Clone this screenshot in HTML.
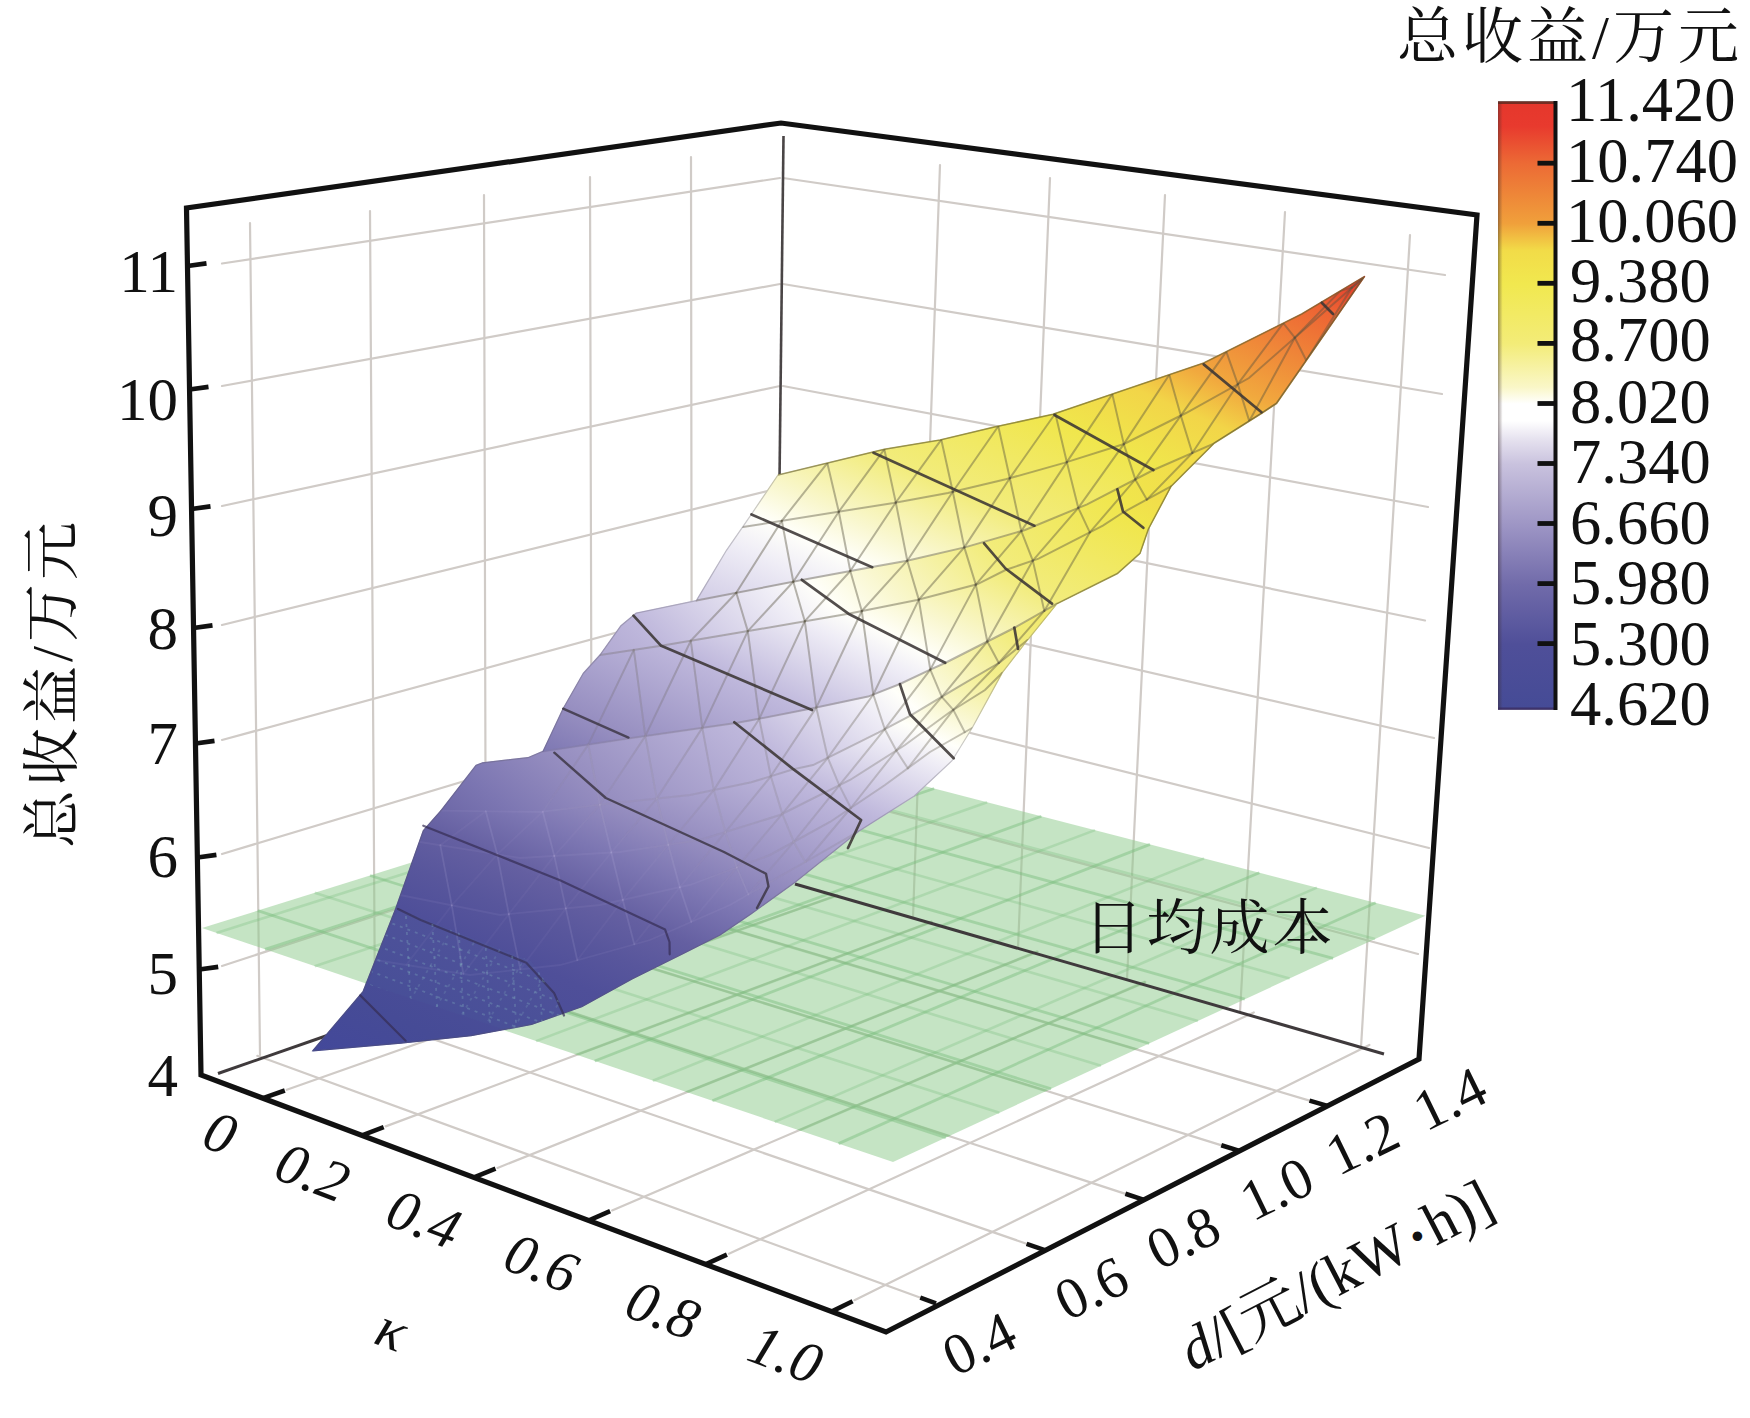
<!DOCTYPE html>
<html><head><meta charset="utf-8"><title>3D surface</title>
<style>html,body{margin:0;padding:0;background:#fff}svg{display:block}</style></head>
<body><svg width="1750" height="1418" viewBox="0 0 1750 1418">
<rect width="1750" height="1418" fill="#fff"/>
<g stroke="#d0cbc7" stroke-width="2.2" fill="none" stroke-linecap="round">
<line x1="286.8" y1="1089.8" x2="837.5" y2="895.2" />
<line x1="385.7" y1="1126.4" x2="931.9" y2="921.8" />
<line x1="497.5" y1="1167.9" x2="1037.7" y2="951.6" />
<line x1="612.1" y1="1210.4" x2="1145.3" y2="981.9" />
<line x1="728.9" y1="1253.7" x2="1253.8" y2="1012.5" />
<line x1="854.5" y1="1300.2" x2="1369.4" y2="1045.0" />
<line x1="257.3" y1="1055.8" x2="927.4" y2="1300.3" />
<line x1="370.2" y1="1017.4" x2="1033.7" y2="1246.2" />
<line x1="476.1" y1="981.3" x2="1132.3" y2="1196.1" />
<line x1="580.0" y1="945.9" x2="1228.1" y2="1147.4" />
<line x1="676.5" y1="913.1" x2="1316.2" y2="1102.6" />
<line x1="250.0" y1="223.0" x2="260.0" y2="1055.0" />
<line x1="370.0" y1="211.0" x2="375.0" y2="1016.0" />
<line x1="484.0" y1="195.0" x2="486.0" y2="978.0" />
<line x1="590.0" y1="177.0" x2="592.0" y2="942.0" />
<line x1="691.0" y1="157.0" x2="692.0" y2="908.0" />
<line x1="222.0" y1="966.0" x2="780.0" y2="783.0" />
<line x1="222.0" y1="854.0" x2="780.0" y2="686.0" />
<line x1="222.0" y1="740.0" x2="780.0" y2="588.0" />
<line x1="222.0" y1="625.0" x2="780.0" y2="488.0" />
<line x1="222.0" y1="506.0" x2="780.0" y2="386.0" />
<line x1="222.0" y1="386.0" x2="780.0" y2="284.0" />
<line x1="222.0" y1="263.5" x2="780.0" y2="178.0" />
<line x1="940.0" y1="165.0" x2="913.0" y2="917.6" />
<line x1="1050.0" y1="178.0" x2="1018.0" y2="948.0" />
<line x1="1165.0" y1="195.0" x2="1127.0" y2="979.6" />
<line x1="1285.0" y1="212.0" x2="1240.0" y2="1012.3" />
<line x1="1410.0" y1="235.0" x2="1361.0" y2="1047.3" />
<line x1="783.0" y1="783.0" x2="1418.0" y2="954.0" />
<line x1="783.0" y1="686.0" x2="1429.0" y2="848.0" />
<line x1="783.0" y1="588.0" x2="1434.0" y2="738.0" />
<line x1="783.0" y1="488.0" x2="1425.0" y2="620.5" />
<line x1="783.0" y1="386.0" x2="1428.0" y2="507.0" />
<line x1="783.0" y1="284.0" x2="1442.0" y2="394.0" />
<line x1="783.0" y1="178.0" x2="1445.0" y2="275.0" />
</g>
<g stroke="#4a4546" stroke-width="2.6" fill="none">
<line x1="783.5" y1="136.0" x2="779.5" y2="480.0" />
</g>
<defs><clipPath id="cpl"><polygon points="202.0,928.0 893.0,1162.0 1425.4,915.7 778.0,748.0"/></clipPath></defs>
<polygon points="202.0,928.0 893.0,1162.0 1425.4,915.7 778.0,748.0" fill="#8cc98a" fill-opacity="0.5"/>
<g clip-path="url(#cpl)" stroke="#7cc07e" stroke-opacity="0.38" stroke-width="2.8" fill="none">
<line x1="286.8" y1="1089.8" x2="837.5" y2="895.2" />
<line x1="385.7" y1="1126.4" x2="931.9" y2="921.8" />
<line x1="497.5" y1="1167.9" x2="1037.7" y2="951.6" />
<line x1="612.1" y1="1210.4" x2="1145.3" y2="981.9" />
<line x1="728.9" y1="1253.7" x2="1253.8" y2="1012.5" />
<line x1="854.5" y1="1300.2" x2="1369.4" y2="1045.0" />
<line x1="257.3" y1="1055.8" x2="927.4" y2="1300.3" />
<line x1="370.2" y1="1017.4" x2="1033.7" y2="1246.2" />
<line x1="476.1" y1="981.3" x2="1132.3" y2="1196.1" />
<line x1="580.0" y1="945.9" x2="1228.1" y2="1147.4" />
<line x1="676.5" y1="913.1" x2="1316.2" y2="1102.6" />
</g>
<g stroke="#78bd7c" stroke-opacity="0.45" stroke-width="2.8" fill="none">
<line x1="265.0" y1="949.3" x2="838.4" y2="763.7" />
<line x1="365.5" y1="983.4" x2="934.2" y2="788.5" />
<line x1="478.9" y1="1021.8" x2="1041.4" y2="816.2" />
<line x1="594.7" y1="1061.0" x2="1150.0" y2="844.4" />
<line x1="712.4" y1="1100.8" x2="1259.4" y2="872.7" />
<line x1="838.6" y1="1143.6" x2="1375.7" y2="902.8" />
<line x1="257.8" y1="910.6" x2="945.8" y2="1137.6" />
<line x1="370.0" y1="875.5" x2="1051.1" y2="1088.9" />
<line x1="475.5" y1="842.5" x2="1149.2" y2="1043.5" />
<line x1="579.3" y1="810.1" x2="1244.8" y2="999.2" />
<line x1="676.0" y1="779.9" x2="1333.1" y2="958.4" />
</g>
<g stroke="#78bd7c" stroke-opacity="0.3" stroke-width="2.6" fill="none">
<line x1="314.7" y1="966.2" x2="885.8" y2="775.9" />
<line x1="421.4" y1="1002.3" x2="987.2" y2="802.2" />
<line x1="536.0" y1="1041.1" x2="1095.1" y2="830.1" />
<line x1="652.8" y1="1080.7" x2="1204.1" y2="858.4" />
<line x1="774.7" y1="1121.9" x2="1316.9" y2="887.6" />
<line x1="216.5" y1="932.9" x2="792.0" y2="751.6" />
<line x1="314.8" y1="892.8" x2="999.4" y2="1112.8" />
<line x1="423.5" y1="858.8" x2="1101.0" y2="1065.8" />
<line x1="528.2" y1="826.1" x2="1197.9" y2="1021.0" />
<line x1="628.4" y1="794.8" x2="1289.7" y2="978.5" />
<line x1="722.3" y1="765.4" x2="1375.1" y2="939.0" />
</g>
<g stroke="#3f3a3c" stroke-width="3" fill="none">
<line x1="218.0" y1="1073.5" x2="330.0" y2="1034.5" />
<line x1="795.0" y1="884.0" x2="1384.0" y2="1054.0" />
</g>
<defs><linearGradient id="g1" gradientUnits="userSpaceOnUse" x1="-134.2" y1="301.5" x2="123.2" y2="-276.8"><stop offset="0.0000" stop-color="#b8b1d7"/><stop offset="0.0395" stop-color="#bfb8dc"/><stop offset="0.2066" stop-color="#efedf6"/><stop offset="0.2621" stop-color="#fffffa"/><stop offset="0.3183" stop-color="#f9f7cf"/><stop offset="0.4281" stop-color="#f2ec7c"/><stop offset="0.5924" stop-color="#f0e64c"/><stop offset="0.6896" stop-color="#f2d548"/><stop offset="0.7536" stop-color="#f1a93e"/><stop offset="0.9283" stop-color="#ed6233"/><stop offset="0.9992" stop-color="#e5352b"/><stop offset="1.0000" stop-color="#e5352b"/></linearGradient>
<linearGradient id="g2a" gradientUnits="userSpaceOnUse" x1="-28.3" y1="28.3" x2="396.0" y2="-396.0"><stop offset="0.0000" stop-color="#b1a9d2"/><stop offset="0.0862" stop-color="#bfb8dc"/><stop offset="0.2728" stop-color="#efedf6"/><stop offset="0.3350" stop-color="#fffffa"/><stop offset="0.4190" stop-color="#f9f7cf"/><stop offset="0.5833" stop-color="#f2ec7c"/><stop offset="0.7968" stop-color="#f0e64c"/><stop offset="1.0000" stop-color="#f2d648"/></linearGradient>
<linearGradient id="g2b" gradientUnits="userSpaceOnUse" x1="-199.8" y1="392.0" x2="36.3" y2="-71.3"><stop offset="0.0000" stop-color="#7670ad"/><stop offset="0.0269" stop-color="#7c76b2"/><stop offset="0.1269" stop-color="#968ec0"/><stop offset="0.3269" stop-color="#bfb8dc"/><stop offset="0.4834" stop-color="#efedf6"/><stop offset="0.5356" stop-color="#fffffa"/><stop offset="0.6049" stop-color="#f9f7cf"/><stop offset="0.7404" stop-color="#f2ec7c"/><stop offset="0.9442" stop-color="#f0e64c"/><stop offset="1.0000" stop-color="#f1de4a"/></linearGradient>
<linearGradient id="g3a" gradientUnits="userSpaceOnUse" x1="-231.4" y1="275.8" x2="128.6" y2="-153.2"><stop offset="0.0000" stop-color="#6661a2"/><stop offset="0.1187" stop-color="#7c76b2"/><stop offset="0.2482" stop-color="#968ec0"/><stop offset="0.4999" stop-color="#bfb8dc"/><stop offset="0.6688" stop-color="#efedf6"/><stop offset="0.7250" stop-color="#fffffa"/><stop offset="0.7963" stop-color="#f9f7cf"/><stop offset="0.9357" stop-color="#f2ec7c"/><stop offset="1.0000" stop-color="#f1ea6d"/></linearGradient>
<linearGradient id="g3b" gradientUnits="userSpaceOnUse" x1="-341.7" y1="767.4" x2="-85.4" y2="191.8"><stop offset="0.0000" stop-color="#43489a"/><stop offset="0.0111" stop-color="#43489a"/><stop offset="0.1111" stop-color="#464b96"/><stop offset="0.2777" stop-color="#4f4f99"/><stop offset="0.3429" stop-color="#58569c"/><stop offset="0.4080" stop-color="#645fa1"/><stop offset="0.4865" stop-color="#7c76b2"/><stop offset="0.5651" stop-color="#968ec0"/><stop offset="0.7159" stop-color="#bfb8dc"/><stop offset="0.8302" stop-color="#efedf6"/><stop offset="0.8682" stop-color="#fffffa"/><stop offset="0.9182" stop-color="#f9f7cf"/><stop offset="1.0000" stop-color="#f3ee89"/></linearGradient>
<clipPath id="cs"><polygon points="778.0,475.0 884.3,449.3 940.0,440.0 994.3,427.1 1052.9,414.3 1203.7,363.0 1301.7,314.0 1364.6,276.4 1276.6,403.4 1261.5,413.4 1213.7,443.6 1171.0,486.4 1148.4,529.0 1140.0,553.4 1117.4,573.5 1057.0,603.7 1027.5,640.0 1002.3,672.7 972.1,728.0 952.0,760.7 914.3,795.9 859.0,831.1 796.1,881.4 750.9,914.1 720.0,935.0 682.3,954.0 632.0,979.0 581.7,1006.8 531.4,1024.4 471.0,1035.7 400.7,1043.2 312.7,1050.8 363.0,991.7 395.7,908.7 423.3,830.7 441.0,810.6 476.0,765.4 482.6,762.8 527.9,757.7 543.0,751.4 563.1,708.7 583.2,673.5 600.0,655.0 621.0,625.7 636.0,613.2 696.4,600.6 726.5,550.3 751.7,513.8"/></clipPath>
<linearGradient id="mg1" gradientUnits="userSpaceOnUse" x1="-211.5" y1="475.0" x2="-93.5" y2="210.1"><stop offset="0" stop-color="#000"/><stop offset="1" stop-color="#fff"/></linearGradient>
<linearGradient id="mg2" gradientUnits="userSpaceOnUse" x1="-211.5" y1="475.0" x2="-93.5" y2="210.1"><stop offset="0" stop-color="#fff"/><stop offset="1" stop-color="#000"/></linearGradient>
<mask id="mk_hi" maskUnits="userSpaceOnUse" x="0" y="0" width="1750" height="1418"><rect width="1750" height="1418" fill="url(#mg1)"/></mask>
<mask id="mk_lo" maskUnits="userSpaceOnUse" x="0" y="0" width="1750" height="1418"><rect width="1750" height="1418" fill="url(#mg2)"/></mask>
<clipPath id="ct"><polygon points="398.0,909.0 531.0,961.0 557.0,997.0 564.0,1014.0 531.4,1024.4 507.0,1030.5 368.0,984.2 381.0,945.0"/></clipPath></defs>
<polygon points="778.0,475.0 884.3,449.3 940.0,440.0 994.3,427.1 1052.9,414.3 1203.7,363.0 1301.7,314.0 1364.6,276.4 1276.6,403.4 1261.5,413.4 1213.7,443.6 1171.0,486.4 1148.4,529.0 1140.0,553.4 1117.4,573.5 1057.0,603.7 1027.5,640.0 1002.3,672.7 972.1,728.0 952.0,760.7 914.3,795.9 859.0,831.1 796.1,881.4 750.9,914.1 720.0,935.0 682.3,954.0 632.0,979.0 581.7,1006.8 531.4,1024.4 471.0,1035.7 400.7,1043.2 312.7,1050.8 363.0,991.7 395.7,908.7 423.3,830.7 441.0,810.6 476.0,765.4 482.6,762.8 527.9,757.7 543.0,751.4 563.1,708.7 583.2,673.5 600.0,655.0 621.0,625.7 636.0,613.2 696.4,600.6 726.5,550.3 751.7,513.8" fill="#8f89bd"/>
<polygon points="312.7,1050.8 363.0,991.7 395.7,908.7 423.3,830.7 441.0,810.6 540.0,812.0 606.0,804.0 690.0,795.0 751.4,782.3 792.6,769.5 813.1,765.1 878.3,732.6 910.9,715.4 953.7,689.7 1000.0,662.3 1027.5,640.0 1002.3,672.7 972.1,728.0 952.0,760.7 914.3,795.9 859.0,831.1 796.1,881.4 750.9,914.1 720.0,935.0 682.3,954.0 632.0,979.0 581.7,1006.8 531.4,1024.4 471.0,1035.7 400.7,1043.2" fill="url(#g3b)" stroke="url(#g3b)" stroke-width="1.2" stroke-linejoin="round"/>
<polygon points="441.0,810.6 476.0,765.4 482.6,762.8 527.9,757.7 543.0,751.4 628.5,738.5 736.0,723.0 749.7,720.6 811.4,708.6 868.0,696.6 900.0,684.0 931.4,669.1 945.0,663.0 1014.0,628.0 1057.0,603.7 1027.5,640.0 1000.0,662.3 953.7,689.7 910.9,715.4 878.3,732.6 813.1,765.1 792.6,769.5 751.4,782.3 690.0,795.0 606.0,804.0 540.0,812.0" fill="url(#g3a)" stroke="url(#g3a)" stroke-width="1.2" stroke-linejoin="round"/>
<polygon points="543.0,751.4 563.1,708.7 583.2,673.5 600.0,655.0 661.2,645.8 760.0,629.0 848.4,613.7 917.1,600.0 977.1,584.3 1005.5,570.0 1038.6,558.6 1102.9,525.7 1123.0,512.5 1171.0,486.4 1148.4,529.0 1140.0,553.4 1117.4,573.5 1057.0,603.7 1014.0,628.0 945.0,663.0 931.4,669.1 900.0,684.0 868.0,696.6 811.4,708.6 749.7,720.6 736.0,723.0 628.5,738.5" fill="url(#g2b)" stroke="url(#g2b)" stroke-width="1.2" stroke-linejoin="round"/>
<polygon points="600.0,655.0 621.0,625.7 636.0,613.2 696.4,600.6 802.0,580.0 872.0,567.0 907.1,560.7 965.7,547.1 1025.0,530.0 1087.1,504.3 1153.4,470.0 1213.7,443.6 1171.0,486.4 1123.0,512.5 1102.9,525.7 1038.6,558.6 1005.5,570.0 977.1,584.3 917.1,600.0 848.4,613.7 760.0,629.0 661.2,645.8 600.0,655.0" fill="url(#g2a)" stroke="url(#g2a)" stroke-width="1.2" stroke-linejoin="round"/>
<polygon points="696.4,600.6 726.5,550.3 751.7,513.8 778.0,475.0 884.3,449.3 940.0,440.0 994.3,427.1 1052.9,414.3 1203.7,363.0 1301.7,314.0 1364.6,276.4 1276.6,403.4 1261.5,413.4 1213.7,443.6 1153.4,470.0 1087.1,504.3 1025.0,530.0 965.7,547.1 907.1,560.7 872.0,567.0 802.0,580.0 696.4,600.6" fill="url(#g1)" stroke="url(#g1)" stroke-width="1.2" stroke-linejoin="round"/>
<!--SHADE-->
<g clip-path="url(#cs)" fill="none" stroke-linecap="round">
<g stroke="#55503f" stroke-opacity="0.42" stroke-width="2" mask="url(#mk_hi)">
<polyline points="743.0,527.0 893.6,502.9 947.9,492.9 1005.7,479.3 1064.3,462.9 1124.0,444.0 1186.0,413.0 1249.0,378.0 1364.6,276.4"/>
<polyline points="696.4,600.6 802.0,580.0 872.0,567.0 907.1,560.7 965.7,547.1 1025.0,530.0 1087.1,504.3 1153.4,470.0 1213.7,443.6 1261.5,413.4 1276.6,403.4 1364.6,276.4"/>
<polyline points="600.0,655.0 661.2,645.8 760.0,629.0 848.4,613.7 917.1,600.0 977.1,584.3 1005.5,570.0 1038.6,558.6 1102.9,525.7 1123.0,512.5 1171.0,486.4"/>
<polyline points="543.0,751.4 628.5,738.5 736.0,723.0 749.7,720.6 811.4,708.6 868.0,696.6 900.0,684.0 931.4,669.1 945.0,663.0 1014.0,628.0 1057.0,603.7"/>
<polyline points="441.0,810.6 540.0,812.0 606.0,804.0 690.0,795.0 751.4,782.3 792.6,769.5 813.1,765.1 878.3,732.6 910.9,715.4 953.7,689.7 1000.0,662.3 1027.5,640.0"/>
<polyline points="420.0,842.0 520.0,858.0 620.0,852.0 700.0,840.0 780.0,815.0 850.0,780.0 905.0,745.0 950.0,712.0 985.0,690.0 1002.3,672.7"/>
<polyline points="400.0,895.0 500.0,915.0 600.0,905.0 690.0,885.0 770.0,855.0 830.0,822.0 885.0,785.0 930.0,752.0 972.1,728.0"/>
<polyline points="375.0,960.0 470.0,975.0 560.0,965.0 650.0,940.0 730.0,905.0 800.0,865.0 859.0,831.1"/>
<line x1="827.3" y1="463.1" x2="781.8" y2="520.8"/>
<line x1="827.3" y1="463.1" x2="838.8" y2="511.7"/>
<line x1="884.3" y1="449.3" x2="838.8" y2="511.7"/>
<line x1="884.3" y1="449.3" x2="895.8" y2="502.5"/>
<line x1="941.3" y1="439.7" x2="895.8" y2="502.5"/>
<line x1="941.3" y1="439.7" x2="952.8" y2="491.7"/>
<line x1="998.3" y1="426.2" x2="952.8" y2="491.7"/>
<line x1="998.3" y1="426.2" x2="1009.8" y2="478.2"/>
<line x1="1055.3" y1="413.5" x2="1009.8" y2="478.2"/>
<line x1="1055.3" y1="413.5" x2="1066.8" y2="462.1"/>
<line x1="1112.3" y1="394.1" x2="1066.8" y2="462.1"/>
<line x1="1112.3" y1="394.1" x2="1123.8" y2="444.1"/>
<line x1="1169.3" y1="374.7" x2="1123.8" y2="444.1"/>
<line x1="1169.3" y1="374.7" x2="1180.8" y2="415.6"/>
<line x1="1226.3" y1="351.7" x2="1180.8" y2="415.6"/>
<line x1="1226.3" y1="351.7" x2="1237.8" y2="384.2"/>
<line x1="1283.3" y1="323.2" x2="1237.8" y2="384.2"/>
<line x1="1283.3" y1="323.2" x2="1294.8" y2="337.7"/>
<line x1="1340.3" y1="290.9" x2="1294.8" y2="337.7"/>
<line x1="1340.3" y1="290.9" x2="1351.8" y2="287.6"/>
<line x1="781.8" y1="520.8" x2="736.3" y2="592.8"/>
<line x1="781.8" y1="520.8" x2="793.3" y2="581.7"/>
<line x1="838.8" y1="511.7" x2="793.3" y2="581.7"/>
<line x1="838.8" y1="511.7" x2="850.3" y2="571.0"/>
<line x1="895.8" y1="502.5" x2="850.3" y2="571.0"/>
<line x1="895.8" y1="502.5" x2="907.3" y2="560.7"/>
<line x1="952.8" y1="491.7" x2="907.3" y2="560.7"/>
<line x1="952.8" y1="491.7" x2="964.3" y2="547.4"/>
<line x1="1009.8" y1="478.2" x2="964.3" y2="547.4"/>
<line x1="1009.8" y1="478.2" x2="1021.3" y2="531.1"/>
<line x1="1066.8" y1="462.1" x2="1021.3" y2="531.1"/>
<line x1="1066.8" y1="462.1" x2="1078.3" y2="507.9"/>
<line x1="1123.8" y1="444.1" x2="1078.3" y2="507.9"/>
<line x1="1123.8" y1="444.1" x2="1135.3" y2="479.4"/>
<line x1="1180.8" y1="415.6" x2="1135.3" y2="479.4"/>
<line x1="1180.8" y1="415.6" x2="1192.3" y2="453.0"/>
<line x1="1237.8" y1="384.2" x2="1192.3" y2="453.0"/>
<line x1="1237.8" y1="384.2" x2="1249.3" y2="421.1"/>
<line x1="1294.8" y1="337.7" x2="1249.3" y2="421.1"/>
<line x1="1294.8" y1="337.7" x2="1306.3" y2="360.5"/>
<line x1="1351.8" y1="287.6" x2="1306.3" y2="360.5"/>
<line x1="1351.8" y1="287.6" x2="1363.3" y2="278.3"/>
<line x1="736.3" y1="592.8" x2="690.8" y2="640.8"/>
<line x1="736.3" y1="592.8" x2="747.8" y2="631.1"/>
<line x1="793.3" y1="581.7" x2="747.8" y2="631.1"/>
<line x1="793.3" y1="581.7" x2="804.8" y2="621.2"/>
<line x1="850.3" y1="571.0" x2="804.8" y2="621.2"/>
<line x1="850.3" y1="571.0" x2="861.8" y2="611.0"/>
<line x1="907.3" y1="560.7" x2="861.8" y2="611.0"/>
<line x1="907.3" y1="560.7" x2="918.8" y2="599.6"/>
<line x1="964.3" y1="547.4" x2="918.8" y2="599.6"/>
<line x1="964.3" y1="547.4" x2="975.8" y2="584.6"/>
<line x1="1021.3" y1="531.1" x2="975.8" y2="584.6"/>
<line x1="1021.3" y1="531.1" x2="1032.8" y2="560.6"/>
<line x1="1078.3" y1="507.9" x2="1032.8" y2="560.6"/>
<line x1="1078.3" y1="507.9" x2="1089.8" y2="532.4"/>
<line x1="1135.3" y1="479.4" x2="1089.8" y2="532.4"/>
<line x1="1135.3" y1="479.4" x2="1146.8" y2="499.6"/>
<line x1="1192.3" y1="453.0" x2="1146.8" y2="499.6"/>
<line x1="633.8" y1="649.9" x2="588.3" y2="744.6"/>
<line x1="633.8" y1="649.9" x2="645.3" y2="736.1"/>
<line x1="690.8" y1="640.8" x2="645.3" y2="736.1"/>
<line x1="690.8" y1="640.8" x2="702.3" y2="727.9"/>
<line x1="747.8" y1="631.1" x2="702.3" y2="727.9"/>
<line x1="747.8" y1="631.1" x2="759.3" y2="718.7"/>
<line x1="804.8" y1="621.2" x2="759.3" y2="718.7"/>
<line x1="804.8" y1="621.2" x2="816.3" y2="707.6"/>
<line x1="861.8" y1="611.0" x2="816.3" y2="707.6"/>
<line x1="861.8" y1="611.0" x2="873.3" y2="694.5"/>
<line x1="918.8" y1="599.6" x2="873.3" y2="694.5"/>
<line x1="918.8" y1="599.6" x2="930.3" y2="669.6"/>
<line x1="975.8" y1="584.6" x2="930.3" y2="669.6"/>
<line x1="975.8" y1="584.6" x2="987.3" y2="641.5"/>
<line x1="1032.8" y1="560.6" x2="987.3" y2="641.5"/>
<line x1="1032.8" y1="560.6" x2="1044.3" y2="610.9"/>
<line x1="1089.8" y1="532.4" x2="1044.3" y2="610.9"/>
<line x1="588.3" y1="744.6" x2="542.8" y2="811.7"/>
<line x1="588.3" y1="744.6" x2="599.8" y2="804.8"/>
<line x1="645.3" y1="736.1" x2="599.8" y2="804.8"/>
<line x1="645.3" y1="736.1" x2="656.8" y2="798.6"/>
<line x1="702.3" y1="727.9" x2="656.8" y2="798.6"/>
<line x1="702.3" y1="727.9" x2="713.8" y2="790.1"/>
<line x1="759.3" y1="718.7" x2="713.8" y2="790.1"/>
<line x1="759.3" y1="718.7" x2="770.8" y2="776.3"/>
<line x1="816.3" y1="707.6" x2="770.8" y2="776.3"/>
<line x1="816.3" y1="707.6" x2="827.8" y2="757.8"/>
<line x1="873.3" y1="694.5" x2="827.8" y2="757.8"/>
<line x1="873.3" y1="694.5" x2="884.8" y2="729.2"/>
<line x1="930.3" y1="669.6" x2="884.8" y2="729.2"/>
<line x1="930.3" y1="669.6" x2="941.8" y2="696.8"/>
<line x1="987.3" y1="641.5" x2="941.8" y2="696.8"/>
<line x1="987.3" y1="641.5" x2="998.8" y2="663.0"/>
<line x1="1044.3" y1="610.9" x2="998.8" y2="663.0"/>
<line x1="485.8" y1="811.2" x2="440.3" y2="845.2"/>
<line x1="485.8" y1="811.2" x2="497.3" y2="854.4"/>
<line x1="542.8" y1="811.7" x2="497.3" y2="854.4"/>
<line x1="542.8" y1="811.7" x2="554.3" y2="855.9"/>
<line x1="599.8" y1="804.8" x2="554.3" y2="855.9"/>
<line x1="599.8" y1="804.8" x2="611.3" y2="852.5"/>
<line x1="656.8" y1="798.6" x2="611.3" y2="852.5"/>
<line x1="656.8" y1="798.6" x2="668.3" y2="844.8"/>
<line x1="713.8" y1="790.1" x2="668.3" y2="844.8"/>
<line x1="713.8" y1="790.1" x2="725.3" y2="832.1"/>
<line x1="770.8" y1="776.3" x2="725.3" y2="832.1"/>
<line x1="770.8" y1="776.3" x2="782.3" y2="813.9"/>
<line x1="827.8" y1="757.8" x2="782.3" y2="813.9"/>
<line x1="827.8" y1="757.8" x2="839.3" y2="785.4"/>
<line x1="884.8" y1="729.2" x2="839.3" y2="785.4"/>
<line x1="884.8" y1="729.2" x2="896.3" y2="750.5"/>
<line x1="941.8" y1="696.8" x2="896.3" y2="750.5"/>
<line x1="941.8" y1="696.8" x2="953.3" y2="709.9"/>
<line x1="998.8" y1="663.0" x2="953.3" y2="709.9"/>
<line x1="440.3" y1="845.2" x2="451.8" y2="905.4"/>
<line x1="497.3" y1="854.4" x2="451.8" y2="905.4"/>
<line x1="497.3" y1="854.4" x2="508.8" y2="914.1"/>
<line x1="554.3" y1="855.9" x2="508.8" y2="914.1"/>
<line x1="554.3" y1="855.9" x2="565.8" y2="908.4"/>
<line x1="611.3" y1="852.5" x2="565.8" y2="908.4"/>
<line x1="611.3" y1="852.5" x2="622.8" y2="899.9"/>
<line x1="668.3" y1="844.8" x2="622.8" y2="899.9"/>
<line x1="668.3" y1="844.8" x2="679.8" y2="887.3"/>
<line x1="725.3" y1="832.1" x2="679.8" y2="887.3"/>
<line x1="725.3" y1="832.1" x2="736.8" y2="867.5"/>
<line x1="782.3" y1="813.9" x2="736.8" y2="867.5"/>
<line x1="782.3" y1="813.9" x2="793.8" y2="841.9"/>
<line x1="839.3" y1="785.4" x2="793.8" y2="841.9"/>
<line x1="839.3" y1="785.4" x2="850.8" y2="808.0"/>
<line x1="896.3" y1="750.5" x2="850.8" y2="808.0"/>
<line x1="896.3" y1="750.5" x2="907.8" y2="768.3"/>
<line x1="953.3" y1="709.9" x2="907.8" y2="768.3"/>
<line x1="953.3" y1="709.9" x2="964.8" y2="732.2"/>
<line x1="451.8" y1="905.4" x2="406.3" y2="964.9"/>
<line x1="451.8" y1="905.4" x2="463.3" y2="973.9"/>
<line x1="508.8" y1="914.1" x2="463.3" y2="973.9"/>
<line x1="508.8" y1="914.1" x2="520.3" y2="969.4"/>
<line x1="565.8" y1="908.4" x2="520.3" y2="969.4"/>
<line x1="565.8" y1="908.4" x2="577.3" y2="960.2"/>
<line x1="622.8" y1="899.9" x2="577.3" y2="960.2"/>
<line x1="622.8" y1="899.9" x2="634.3" y2="944.4"/>
<line x1="679.8" y1="887.3" x2="634.3" y2="944.4"/>
<line x1="679.8" y1="887.3" x2="691.3" y2="921.9"/>
<line x1="736.8" y1="867.5" x2="691.3" y2="921.9"/>
<line x1="736.8" y1="867.5" x2="748.3" y2="894.5"/>
<line x1="793.8" y1="841.9" x2="748.3" y2="894.5"/>
<line x1="793.8" y1="841.9" x2="805.3" y2="862.0"/>
<line x1="850.8" y1="808.0" x2="805.3" y2="862.0"/>
</g>
<g stroke="#cfc8ee" stroke-opacity="0.13" stroke-width="1.8" mask="url(#mk_lo)">
<polyline points="743.0,527.0 893.6,502.9 947.9,492.9 1005.7,479.3 1064.3,462.9 1124.0,444.0 1186.0,413.0 1249.0,378.0 1364.6,276.4" stroke-opacity="0.07"/>
<polyline points="696.4,600.6 802.0,580.0 872.0,567.0 907.1,560.7 965.7,547.1 1025.0,530.0 1087.1,504.3 1153.4,470.0 1213.7,443.6 1261.5,413.4 1276.6,403.4 1364.6,276.4" stroke-opacity="0.07"/>
<polyline points="600.0,655.0 661.2,645.8 760.0,629.0 848.4,613.7 917.1,600.0 977.1,584.3 1005.5,570.0 1038.6,558.6 1102.9,525.7 1123.0,512.5 1171.0,486.4" stroke-opacity="0.07"/>
<polyline points="543.0,751.4 628.5,738.5 736.0,723.0 749.7,720.6 811.4,708.6 868.0,696.6 900.0,684.0 931.4,669.1 945.0,663.0 1014.0,628.0 1057.0,603.7" stroke-opacity="0.07"/>
<polyline points="441.0,810.6 540.0,812.0 606.0,804.0 690.0,795.0 751.4,782.3 792.6,769.5 813.1,765.1 878.3,732.6 910.9,715.4 953.7,689.7 1000.0,662.3 1027.5,640.0" stroke-opacity="0.07"/>
<polyline points="420.0,842.0 520.0,858.0 620.0,852.0 700.0,840.0 780.0,815.0 850.0,780.0 905.0,745.0 950.0,712.0 985.0,690.0 1002.3,672.7" stroke-opacity="0.07"/>
<polyline points="400.0,895.0 500.0,915.0 600.0,905.0 690.0,885.0 770.0,855.0 830.0,822.0 885.0,785.0 930.0,752.0 972.1,728.0" stroke-opacity="0.07"/>
<polyline points="375.0,960.0 470.0,975.0 560.0,965.0 650.0,940.0 730.0,905.0 800.0,865.0 859.0,831.1" stroke-opacity="0.07"/>
<line x1="827.3" y1="463.1" x2="838.8" y2="511.7"/>
<line x1="884.3" y1="449.3" x2="895.8" y2="502.5"/>
<line x1="941.3" y1="439.7" x2="952.8" y2="491.7"/>
<line x1="998.3" y1="426.2" x2="1009.8" y2="478.2"/>
<line x1="1055.3" y1="413.5" x2="1066.8" y2="462.1"/>
<line x1="1112.3" y1="394.1" x2="1123.8" y2="444.1"/>
<line x1="1169.3" y1="374.7" x2="1180.8" y2="415.6"/>
<line x1="1226.3" y1="351.7" x2="1237.8" y2="384.2"/>
<line x1="1283.3" y1="323.2" x2="1294.8" y2="337.7"/>
<line x1="1340.3" y1="290.9" x2="1351.8" y2="287.6"/>
<line x1="781.8" y1="520.8" x2="793.3" y2="581.7"/>
<line x1="838.8" y1="511.7" x2="850.3" y2="571.0"/>
<line x1="895.8" y1="502.5" x2="907.3" y2="560.7"/>
<line x1="952.8" y1="491.7" x2="964.3" y2="547.4"/>
<line x1="1009.8" y1="478.2" x2="1021.3" y2="531.1"/>
<line x1="1066.8" y1="462.1" x2="1078.3" y2="507.9"/>
<line x1="1123.8" y1="444.1" x2="1135.3" y2="479.4"/>
<line x1="1180.8" y1="415.6" x2="1192.3" y2="453.0"/>
<line x1="1237.8" y1="384.2" x2="1249.3" y2="421.1"/>
<line x1="1294.8" y1="337.7" x2="1306.3" y2="360.5"/>
<line x1="1351.8" y1="287.6" x2="1363.3" y2="278.3"/>
<line x1="736.3" y1="592.8" x2="747.8" y2="631.1"/>
<line x1="793.3" y1="581.7" x2="804.8" y2="621.2"/>
<line x1="850.3" y1="571.0" x2="861.8" y2="611.0"/>
<line x1="907.3" y1="560.7" x2="918.8" y2="599.6"/>
<line x1="964.3" y1="547.4" x2="975.8" y2="584.6"/>
<line x1="1021.3" y1="531.1" x2="1032.8" y2="560.6"/>
<line x1="1078.3" y1="507.9" x2="1089.8" y2="532.4"/>
<line x1="1135.3" y1="479.4" x2="1146.8" y2="499.6"/>
<line x1="633.8" y1="649.9" x2="645.3" y2="736.1"/>
<line x1="690.8" y1="640.8" x2="702.3" y2="727.9"/>
<line x1="747.8" y1="631.1" x2="759.3" y2="718.7"/>
<line x1="804.8" y1="621.2" x2="816.3" y2="707.6"/>
<line x1="861.8" y1="611.0" x2="873.3" y2="694.5"/>
<line x1="918.8" y1="599.6" x2="930.3" y2="669.6"/>
<line x1="975.8" y1="584.6" x2="987.3" y2="641.5"/>
<line x1="1032.8" y1="560.6" x2="1044.3" y2="610.9"/>
<line x1="588.3" y1="744.6" x2="599.8" y2="804.8"/>
<line x1="645.3" y1="736.1" x2="656.8" y2="798.6"/>
<line x1="702.3" y1="727.9" x2="713.8" y2="790.1"/>
<line x1="759.3" y1="718.7" x2="770.8" y2="776.3"/>
<line x1="816.3" y1="707.6" x2="827.8" y2="757.8"/>
<line x1="873.3" y1="694.5" x2="884.8" y2="729.2"/>
<line x1="930.3" y1="669.6" x2="941.8" y2="696.8"/>
<line x1="987.3" y1="641.5" x2="998.8" y2="663.0"/>
<line x1="485.8" y1="811.2" x2="497.3" y2="854.4"/>
<line x1="542.8" y1="811.7" x2="554.3" y2="855.9"/>
<line x1="599.8" y1="804.8" x2="611.3" y2="852.5"/>
<line x1="656.8" y1="798.6" x2="668.3" y2="844.8"/>
<line x1="713.8" y1="790.1" x2="725.3" y2="832.1"/>
<line x1="770.8" y1="776.3" x2="782.3" y2="813.9"/>
<line x1="827.8" y1="757.8" x2="839.3" y2="785.4"/>
<line x1="884.8" y1="729.2" x2="896.3" y2="750.5"/>
<line x1="941.8" y1="696.8" x2="953.3" y2="709.9"/>
<line x1="440.3" y1="845.2" x2="451.8" y2="905.4"/>
<line x1="497.3" y1="854.4" x2="508.8" y2="914.1"/>
<line x1="554.3" y1="855.9" x2="565.8" y2="908.4"/>
<line x1="611.3" y1="852.5" x2="622.8" y2="899.9"/>
<line x1="668.3" y1="844.8" x2="679.8" y2="887.3"/>
<line x1="725.3" y1="832.1" x2="736.8" y2="867.5"/>
<line x1="782.3" y1="813.9" x2="793.8" y2="841.9"/>
<line x1="839.3" y1="785.4" x2="850.8" y2="808.0"/>
<line x1="896.3" y1="750.5" x2="907.8" y2="768.3"/>
<line x1="953.3" y1="709.9" x2="964.8" y2="732.2"/>
<line x1="451.8" y1="905.4" x2="463.3" y2="973.9"/>
<line x1="508.8" y1="914.1" x2="520.3" y2="969.4"/>
<line x1="565.8" y1="908.4" x2="577.3" y2="960.2"/>
<line x1="622.8" y1="899.9" x2="634.3" y2="944.4"/>
<line x1="679.8" y1="887.3" x2="691.3" y2="921.9"/>
<line x1="736.8" y1="867.5" x2="748.3" y2="894.5"/>
<line x1="793.8" y1="841.9" x2="805.3" y2="862.0"/>
<line x1="827.3" y1="463.1" x2="781.8" y2="520.8" stroke-opacity="0.05"/>
<line x1="884.3" y1="449.3" x2="838.8" y2="511.7" stroke-opacity="0.05"/>
<line x1="941.3" y1="439.7" x2="895.8" y2="502.5" stroke-opacity="0.05"/>
<line x1="998.3" y1="426.2" x2="952.8" y2="491.7" stroke-opacity="0.05"/>
<line x1="1055.3" y1="413.5" x2="1009.8" y2="478.2" stroke-opacity="0.05"/>
<line x1="1112.3" y1="394.1" x2="1066.8" y2="462.1" stroke-opacity="0.05"/>
<line x1="1169.3" y1="374.7" x2="1123.8" y2="444.1" stroke-opacity="0.05"/>
<line x1="1226.3" y1="351.7" x2="1180.8" y2="415.6" stroke-opacity="0.05"/>
<line x1="1283.3" y1="323.2" x2="1237.8" y2="384.2" stroke-opacity="0.05"/>
<line x1="1340.3" y1="290.9" x2="1294.8" y2="337.7" stroke-opacity="0.05"/>
<line x1="781.8" y1="520.8" x2="736.3" y2="592.8" stroke-opacity="0.05"/>
<line x1="838.8" y1="511.7" x2="793.3" y2="581.7" stroke-opacity="0.05"/>
<line x1="895.8" y1="502.5" x2="850.3" y2="571.0" stroke-opacity="0.05"/>
<line x1="952.8" y1="491.7" x2="907.3" y2="560.7" stroke-opacity="0.05"/>
<line x1="1009.8" y1="478.2" x2="964.3" y2="547.4" stroke-opacity="0.05"/>
<line x1="1066.8" y1="462.1" x2="1021.3" y2="531.1" stroke-opacity="0.05"/>
<line x1="1123.8" y1="444.1" x2="1078.3" y2="507.9" stroke-opacity="0.05"/>
<line x1="1180.8" y1="415.6" x2="1135.3" y2="479.4" stroke-opacity="0.05"/>
<line x1="1237.8" y1="384.2" x2="1192.3" y2="453.0" stroke-opacity="0.05"/>
<line x1="1294.8" y1="337.7" x2="1249.3" y2="421.1" stroke-opacity="0.05"/>
<line x1="1351.8" y1="287.6" x2="1306.3" y2="360.5" stroke-opacity="0.05"/>
<line x1="736.3" y1="592.8" x2="690.8" y2="640.8" stroke-opacity="0.05"/>
<line x1="793.3" y1="581.7" x2="747.8" y2="631.1" stroke-opacity="0.05"/>
<line x1="850.3" y1="571.0" x2="804.8" y2="621.2" stroke-opacity="0.05"/>
<line x1="907.3" y1="560.7" x2="861.8" y2="611.0" stroke-opacity="0.05"/>
<line x1="964.3" y1="547.4" x2="918.8" y2="599.6" stroke-opacity="0.05"/>
<line x1="1021.3" y1="531.1" x2="975.8" y2="584.6" stroke-opacity="0.05"/>
<line x1="1078.3" y1="507.9" x2="1032.8" y2="560.6" stroke-opacity="0.05"/>
<line x1="1135.3" y1="479.4" x2="1089.8" y2="532.4" stroke-opacity="0.05"/>
<line x1="1192.3" y1="453.0" x2="1146.8" y2="499.6" stroke-opacity="0.05"/>
<line x1="633.8" y1="649.9" x2="588.3" y2="744.6" stroke-opacity="0.05"/>
<line x1="690.8" y1="640.8" x2="645.3" y2="736.1" stroke-opacity="0.05"/>
<line x1="747.8" y1="631.1" x2="702.3" y2="727.9" stroke-opacity="0.05"/>
<line x1="804.8" y1="621.2" x2="759.3" y2="718.7" stroke-opacity="0.05"/>
<line x1="861.8" y1="611.0" x2="816.3" y2="707.6" stroke-opacity="0.05"/>
<line x1="918.8" y1="599.6" x2="873.3" y2="694.5" stroke-opacity="0.05"/>
<line x1="975.8" y1="584.6" x2="930.3" y2="669.6" stroke-opacity="0.05"/>
<line x1="1032.8" y1="560.6" x2="987.3" y2="641.5" stroke-opacity="0.05"/>
<line x1="1089.8" y1="532.4" x2="1044.3" y2="610.9" stroke-opacity="0.05"/>
<line x1="588.3" y1="744.6" x2="542.8" y2="811.7" stroke-opacity="0.05"/>
<line x1="645.3" y1="736.1" x2="599.8" y2="804.8" stroke-opacity="0.05"/>
<line x1="702.3" y1="727.9" x2="656.8" y2="798.6" stroke-opacity="0.05"/>
<line x1="759.3" y1="718.7" x2="713.8" y2="790.1" stroke-opacity="0.05"/>
<line x1="816.3" y1="707.6" x2="770.8" y2="776.3" stroke-opacity="0.05"/>
<line x1="873.3" y1="694.5" x2="827.8" y2="757.8" stroke-opacity="0.05"/>
<line x1="930.3" y1="669.6" x2="884.8" y2="729.2" stroke-opacity="0.05"/>
<line x1="987.3" y1="641.5" x2="941.8" y2="696.8" stroke-opacity="0.05"/>
<line x1="1044.3" y1="610.9" x2="998.8" y2="663.0" stroke-opacity="0.05"/>
<line x1="485.8" y1="811.2" x2="440.3" y2="845.2" stroke-opacity="0.05"/>
<line x1="542.8" y1="811.7" x2="497.3" y2="854.4" stroke-opacity="0.05"/>
<line x1="599.8" y1="804.8" x2="554.3" y2="855.9" stroke-opacity="0.05"/>
<line x1="656.8" y1="798.6" x2="611.3" y2="852.5" stroke-opacity="0.05"/>
<line x1="713.8" y1="790.1" x2="668.3" y2="844.8" stroke-opacity="0.05"/>
<line x1="770.8" y1="776.3" x2="725.3" y2="832.1" stroke-opacity="0.05"/>
<line x1="827.8" y1="757.8" x2="782.3" y2="813.9" stroke-opacity="0.05"/>
<line x1="884.8" y1="729.2" x2="839.3" y2="785.4" stroke-opacity="0.05"/>
<line x1="941.8" y1="696.8" x2="896.3" y2="750.5" stroke-opacity="0.05"/>
<line x1="998.8" y1="663.0" x2="953.3" y2="709.9" stroke-opacity="0.05"/>
<line x1="497.3" y1="854.4" x2="451.8" y2="905.4" stroke-opacity="0.05"/>
<line x1="554.3" y1="855.9" x2="508.8" y2="914.1" stroke-opacity="0.05"/>
<line x1="611.3" y1="852.5" x2="565.8" y2="908.4" stroke-opacity="0.05"/>
<line x1="668.3" y1="844.8" x2="622.8" y2="899.9" stroke-opacity="0.05"/>
<line x1="725.3" y1="832.1" x2="679.8" y2="887.3" stroke-opacity="0.05"/>
<line x1="782.3" y1="813.9" x2="736.8" y2="867.5" stroke-opacity="0.05"/>
<line x1="839.3" y1="785.4" x2="793.8" y2="841.9" stroke-opacity="0.05"/>
<line x1="896.3" y1="750.5" x2="850.8" y2="808.0" stroke-opacity="0.05"/>
<line x1="953.3" y1="709.9" x2="907.8" y2="768.3" stroke-opacity="0.05"/>
<line x1="451.8" y1="905.4" x2="406.3" y2="964.9" stroke-opacity="0.05"/>
<line x1="508.8" y1="914.1" x2="463.3" y2="973.9" stroke-opacity="0.05"/>
<line x1="565.8" y1="908.4" x2="520.3" y2="969.4" stroke-opacity="0.05"/>
<line x1="622.8" y1="899.9" x2="577.3" y2="960.2" stroke-opacity="0.05"/>
<line x1="679.8" y1="887.3" x2="634.3" y2="944.4" stroke-opacity="0.05"/>
<line x1="736.8" y1="867.5" x2="691.3" y2="921.9" stroke-opacity="0.05"/>
<line x1="793.8" y1="841.9" x2="748.3" y2="894.5" stroke-opacity="0.05"/>
<line x1="850.8" y1="808.0" x2="805.3" y2="862.0" stroke-opacity="0.05"/>
</g>
</g>
<polygon points="778.0,475.0 884.3,449.3 940.0,440.0 994.3,427.1 1052.9,414.3 1203.7,363.0 1301.7,314.0 1364.6,276.4 1276.6,403.4 1261.5,413.4 1213.7,443.6 1171.0,486.4 1148.4,529.0 1140.0,553.4 1117.4,573.5 1057.0,603.7 1027.5,640.0 1002.3,672.7 972.1,728.0 952.0,760.7 914.3,795.9 859.0,831.1 796.1,881.4 750.9,914.1 720.0,935.0 682.3,954.0 632.0,979.0 581.7,1006.8 531.4,1024.4 471.0,1035.7 400.7,1043.2 312.7,1050.8 363.0,991.7 395.7,908.7 423.3,830.7 441.0,810.6 476.0,765.4 482.6,762.8 527.9,757.7 543.0,751.4 563.1,708.7 583.2,673.5 600.0,655.0 621.0,625.7 636.0,613.2 696.4,600.6 726.5,550.3 751.7,513.8" fill="none" stroke="#5a5560" stroke-opacity="0.3" stroke-width="1.2"/>
<polyline points="778.0,475.0 884.3,449.3 940.0,440.0 994.3,427.1 1052.9,414.3 1203.7,363.0 1301.7,314.0 1364.6,276.4 1276.6,403.4 1261.5,413.4 1213.7,443.6 1171.0,486.4 1148.4,529.0 1140.0,553.4 1117.4,573.5 1057.0,603.7" fill="none" stroke="#6b6420" stroke-opacity="0.5" stroke-width="1.5"/>
<g fill="none" stroke="#3b3634" stroke-opacity="0.88" stroke-width="2.7" stroke-linejoin="round" stroke-linecap="round">
<polyline points="751.5,514.4 872.2,567.2"/>
<polyline points="873.5,452.8 1034.4,525.7"/>
<polyline points="1054.5,415.0 1153.4,470.0"/>
<polyline points="1203.7,364.4 1261.5,412.2"/>
<polyline points="1321.8,302.8 1333.0,314.0"/>
<polyline points="801.8,579.8 848.4,613.7 945.2,662.8"/>
<polyline points="984.1,543.3 1005.5,568.5 1052.0,603.7"/>
<polyline points="1117.4,489.3 1123.0,511.5 1143.3,527.8"/>
<polyline points="899.9,684.1 910.0,714.3 953.7,758.3"/>
<polyline points="1014.3,627.6 1018.1,648.9"/>
<polyline points="633.5,615.7 661.2,645.8 812.0,710.0"/>
<polyline points="734.3,722.3 792.6,768.6 861.1,820.0 848.0,848.0"/>
</g>
<g fill="none" stroke="#38323e" stroke-opacity="0.8" stroke-width="2.4" stroke-linejoin="round" stroke-linecap="round">
<polyline points="563.1,708.7 628.5,737.6"/>
<polyline points="554.3,752.7 605.8,798.0 724.0,852.0 766.0,873.8 768.5,886.4 757.0,908.0"/>
</g>
<g fill="none" stroke="#352c52" stroke-opacity="0.7" stroke-width="2.2" stroke-linejoin="round" stroke-linecap="round">
<polyline points="423.3,825.7 560.0,880.2 665.1,929.6 669.5,942.0 669.7,954.3"/>
<polyline points="398.0,909.0 420.7,920.0 526.3,962.7 554.0,992.9 564.0,1015.5"/>
<polyline points="360.3,995.4 405.6,1040.7"/>
</g>
<polygon points="398.0,909.0 531.0,961.0 557.0,997.0 564.0,1014.0 531.4,1024.4 507.0,1030.5 368.0,984.2 381.0,945.0" fill="#5fb4c8" fill-opacity="0.03"/>
<g clip-path="url(#ct)" stroke="#8fc4c8" stroke-opacity="0.26" stroke-width="1.8" stroke-dasharray="3 5" fill="none">
<line x1="405" y1="900" x2="413" y2="1040"/>
<line x1="431" y1="900" x2="439" y2="1040"/>
<line x1="457" y1="900" x2="465" y2="1040"/>
<line x1="483" y1="900" x2="491" y2="1040"/>
<line x1="509" y1="900" x2="517" y2="1040"/>
<line x1="535" y1="900" x2="543" y2="1040"/>
<line x1="561" y1="900" x2="569" y2="1040"/>
<line x1="370" y1="915" x2="600" y2="1003"/>
<line x1="370" y1="929" x2="600" y2="1017"/>
<line x1="370" y1="943" x2="600" y2="1031"/>
<line x1="370" y1="957" x2="600" y2="1045"/>
<line x1="370" y1="971" x2="600" y2="1059"/>
<line x1="370" y1="985" x2="600" y2="1073"/>
<line x1="370" y1="999" x2="600" y2="1087"/>
<line x1="370" y1="1013" x2="600" y2="1101"/>
<line x1="460" y1="915" x2="390" y2="1035" stroke-opacity="0.18"/>
<line x1="490" y1="915" x2="420" y2="1035" stroke-opacity="0.18"/>
<line x1="520" y1="915" x2="450" y2="1035" stroke-opacity="0.18"/>
<line x1="550" y1="915" x2="480" y2="1035" stroke-opacity="0.18"/>
<line x1="580" y1="915" x2="510" y2="1035" stroke-opacity="0.18"/>
<line x1="610" y1="915" x2="540" y2="1035" stroke-opacity="0.18"/>
</g>
<!--TINTMESH-->
<g stroke="#111" stroke-width="5.2" fill="none" stroke-linejoin="miter" stroke-linecap="butt">
<polyline points="201.0,1075.0 186.5,208.0 781.0,123.0 1477.0,215.0 1419.0,1059.0 886.0,1332.0 201.0,1075.0 200.7,1057.7"/>
</g>
<g stroke="#111" stroke-width="4.6" fill="none">
<line x1="199.2" y1="969.5" x2="218.2" y2="966.9" />
<line x1="197.4" y1="857.5" x2="216.4" y2="854.9" />
<line x1="195.5" y1="743.5" x2="214.5" y2="740.9" />
<line x1="193.5" y1="628.0" x2="212.5" y2="625.4" />
<line x1="191.5" y1="509.0" x2="210.5" y2="506.4" />
<line x1="189.5" y1="389.5" x2="208.5" y2="386.9" />
<line x1="187.5" y1="266.0" x2="206.5" y2="263.4" />
<line x1="263.0" y1="1098.2" x2="284.8" y2="1090.5" />
<line x1="362.0" y1="1135.3" x2="383.7" y2="1127.2" />
<line x1="474.0" y1="1177.3" x2="495.5" y2="1168.7" />
<line x1="589.0" y1="1220.3" x2="610.1" y2="1211.2" />
<line x1="706.0" y1="1264.2" x2="726.9" y2="1254.6" />
<line x1="832.0" y1="1311.4" x2="852.6" y2="1301.2" />
<line x1="936.0" y1="1303.4" x2="920.3" y2="1297.7" />
<line x1="1045.5" y1="1250.3" x2="1026.6" y2="1243.8" />
<line x1="1144.0" y1="1199.9" x2="1125.4" y2="1193.8" />
<line x1="1239.5" y1="1150.9" x2="1221.3" y2="1145.2" />
<line x1="1327.5" y1="1105.9" x2="1309.5" y2="1100.6" />
</g>
<g font-family="'Liberation Serif','Noto Serif CJK SC',serif" fill="#111" font-size="60">
<text x="178" y="292" text-anchor="end" font-size="61">11</text>
<text x="178" y="420" text-anchor="end" font-size="61">10</text>
<text x="178" y="536" text-anchor="end" font-size="61">9</text>
<text x="178" y="649" text-anchor="end" font-size="61">8</text>
<text x="178" y="764" text-anchor="end" font-size="61">7</text>
<text x="178" y="877" text-anchor="end" font-size="61">6</text>
<text x="178" y="994" text-anchor="end" font-size="61">5</text>
<text x="178" y="1096" text-anchor="end" font-size="61">4</text>
<text transform="translate(220.2,1132.7) rotate(21)" text-anchor="middle" font-style="italic" font-size="58" y="19.5">0</text>
<text transform="translate(312.6,1172.3) rotate(21)" text-anchor="middle" font-style="italic" font-size="58" y="19.5">0.2</text>
<text transform="translate(423.9,1218.9) rotate(21)" text-anchor="middle" font-style="italic" font-size="58" y="19.5">0.4</text>
<text transform="translate(541.5,1262.9) rotate(21)" text-anchor="middle" font-style="italic" font-size="58" y="19.5">0.6</text>
<text transform="translate(663.1,1310) rotate(21)" text-anchor="middle" font-style="italic" font-size="58" y="19.5">0.8</text>
<text transform="translate(785.7,1354) rotate(21)" text-anchor="middle" font-style="italic" font-size="58" y="19.5">1.0</text>
<text transform="translate(389.3,1336.4) rotate(21)" text-anchor="middle" font-style="italic" font-size="58" y="12">κ</text>
<text transform="translate(979.1,1343.7) rotate(-26)" text-anchor="middle" font-size="58" y="19.5">0.4</text>
<text transform="translate(1091.4,1288) rotate(-26)" text-anchor="middle" font-size="58" y="19.5">0.6</text>
<text transform="translate(1183.1,1237.4) rotate(-26)" text-anchor="middle" font-size="58" y="19.5">0.8</text>
<text transform="translate(1276.6,1188.6) rotate(-26)" text-anchor="middle" font-size="58" y="19.5">1.0</text>
<text transform="translate(1362.3,1143.1) rotate(-26)" text-anchor="middle" font-size="58" y="19.5">1.2</text>
<text transform="translate(1449.7,1098.6) rotate(-26)" text-anchor="middle" font-size="58" y="19.5">1.4</text>
<text transform="translate(1336.6,1276) rotate(-27.3)" text-anchor="middle" y="19"><tspan font-style="italic">d</tspan>/[元/(kW<tspan dx="5" font-size="40" dy="-4">•</tspan><tspan dx="5" dy="4">h)]</tspan></text>
<text transform="translate(72,683) rotate(-90)" text-anchor="middle" font-size="58" letter-spacing="4">总收益/万元</text>
<text x="1083.5" y="949" font-size="60" letter-spacing="3">日均成本</text>
<text x="1397" y="58" font-size="61" letter-spacing="4">总收益/万元</text>
<text x="1566" y="120.6" font-size="62.5">11.420</text>
<text x="1566" y="182" font-size="62.5">10.740</text>
<text x="1566" y="241.8" font-size="62.5">10.060</text>
<text x="1570" y="302" font-size="62.5">9.380</text>
<text x="1570" y="361.4" font-size="62.5">8.700</text>
<text x="1570" y="422.8" font-size="62.5">8.020</text>
<text x="1570" y="483" font-size="62.5">7.340</text>
<text x="1570" y="543.5" font-size="62.5">6.660</text>
<text x="1570" y="603.8" font-size="62.5">5.980</text>
<text x="1570" y="664.7" font-size="62.5">5.300</text>
<text x="1570" y="725.4" font-size="62.5">4.620</text>
</g>
<defs><linearGradient id="cb" x1="0" y1="0" x2="0" y2="1">
<stop offset="0" stop-color="#e5372c"/><stop offset="0.04" stop-color="#e83a2e"/>
<stop offset="0.101" stop-color="#ec6a35"/><stop offset="0.2" stop-color="#f0a03b"/>
<stop offset="0.245" stop-color="#f2dc48"/><stop offset="0.30" stop-color="#f1e84f"/>
<stop offset="0.398" stop-color="#f3ec78"/><stop offset="0.47" stop-color="#faf7c8"/>
<stop offset="0.497" stop-color="#ffffff"/><stop offset="0.525" stop-color="#ffffff"/>
<stop offset="0.555" stop-color="#e6e2ef"/><stop offset="0.596" stop-color="#c9c2de"/>
<stop offset="0.695" stop-color="#9e96c5"/><stop offset="0.794" stop-color="#716baa"/>
<stop offset="0.893" stop-color="#4f4f99"/><stop offset="1" stop-color="#454b96"/>
</linearGradient>
<linearGradient id="cbedge" x1="0" y1="0" x2="1" y2="0"><stop offset="0" stop-color="#3a2a2a" stop-opacity="0.45"/><stop offset="0.08" stop-color="#3a2a2a" stop-opacity="0"/></linearGradient>
</defs>
<rect x="1498" y="102" width="58" height="607.5" fill="url(#cb)"/>
<rect x="1498" y="102" width="58" height="607.5" fill="url(#cbedge)"/>
<rect x="1498" y="101" width="59" height="3" fill="#5a2a22" fill-opacity="0.8"/>
<rect x="1498" y="707.5" width="59" height="2.5" fill="#3a2a5a" fill-opacity="0.7"/>
<rect x="1553.5" y="101" width="4" height="609" fill="#111"/>
<rect x="1537.5" y="160.8" width="18" height="4.8" fill="#111"/>
<rect x="1537.5" y="220.9" width="18" height="4.8" fill="#111"/>
<rect x="1537.5" y="280.9" width="18" height="4.8" fill="#111"/>
<rect x="1537.5" y="341.0" width="18" height="4.8" fill="#111"/>
<rect x="1537.5" y="401.1" width="18" height="4.8" fill="#111"/>
<rect x="1537.5" y="461.1" width="18" height="4.8" fill="#111"/>
<rect x="1537.5" y="521.1" width="18" height="4.8" fill="#111"/>
<rect x="1537.5" y="581.2" width="18" height="4.8" fill="#111"/>
<rect x="1537.5" y="641.2" width="18" height="4.8" fill="#111"/>
</svg></body></html>
